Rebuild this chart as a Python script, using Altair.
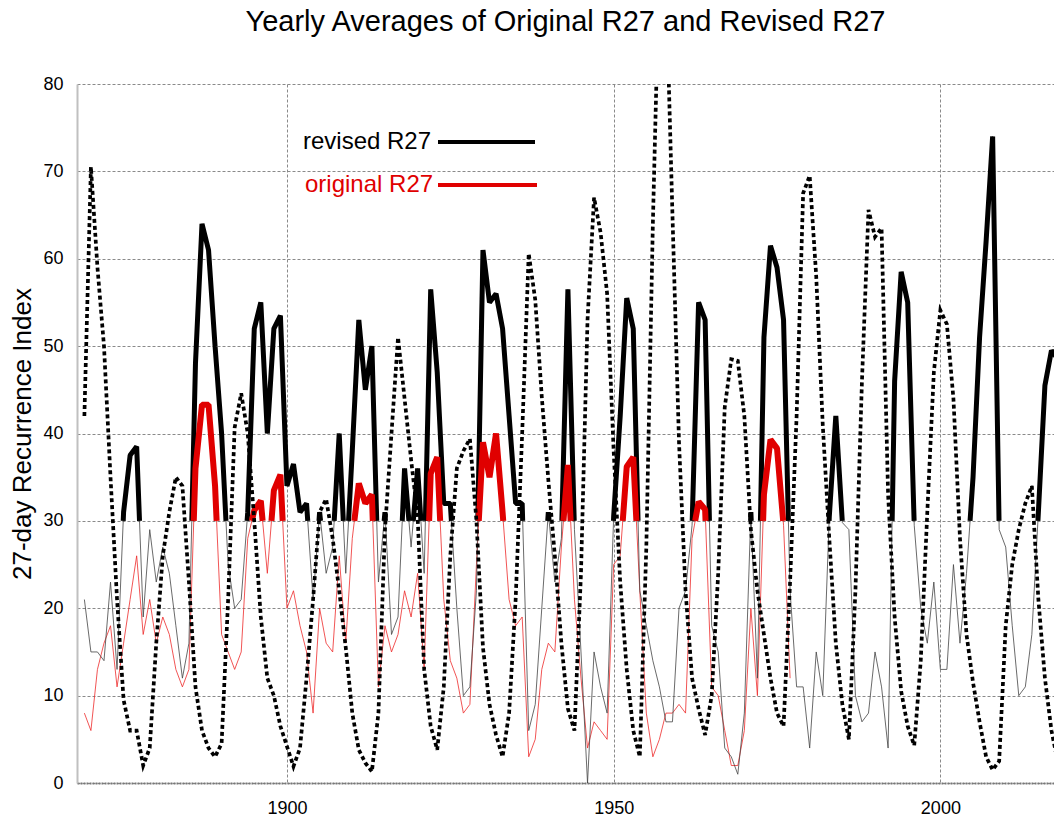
import altair as alt
import pandas as pd

years = list(range(1869, 2020))

revised = [21, 15, 15, 14, 23, 13, 31, 37.5, 38.5, 19,
           29, 23, 27, 24, 18, 12, 16, 48, 64, 61,
           50, 40, 25, 20, 21, 31, 52, 55, 40, 52,
           53.5, 34, 36.5, 31, 32, 21, 31, 24, 27, 40,
           24, 38, 53, 45, 50, 23, 31, 17, 19, 36,
           27, 36, 24, 56.5, 47, 32, 32, 20, 10, 11,
           22, 61, 55, 56, 52, 42, 32, 32, 6, 9,
           20, 31, 23, 28, 56.5, 29, 15, 0, 15, 11,
           8, 30.5, 42, 55.5, 52, 22, 18, 14, 11, 7,
           7, 20, 22, 29.5, 55, 53, 18, 15, 4, 3,
           1, 8, 31, 12, 51, 61.5, 59, 53, 22, 11,
           11, 4, 15, 10, 30.5, 42, 29.8, 29, 10, 7,
           8, 15, 11, 4, 46, 58.5, 55, 29.5, 20, 16,
           23, 13, 13, 25, 16, 24, 35, 51, 62, 74,
           29, 27, 18, 10, 11, 17, 31, 45.5, 49.5, 48.5,
           44]

original_years = list(range(1869, 1978))
original = [8, 6, 13, 16, 18, 11, 16, 21, 26, 17,
            21, 16, 19, 17, 13, 11, 13, 36, 43.3, 43.3,
            34, 17, 15, 13, 15, 28, 31.2, 32.3, 24, 33.5,
            35.3, 20, 22, 18, 15, 8, 20, 16, 15, 26,
            16, 28, 34.3, 32, 33, 11, 18, 15, 17, 22,
            19, 24, 13, 35.4, 37.3, 21, 14, 12, 8, 9,
            25, 39, 35, 40, 31, 21, 18, 19, 3, 5,
            13, 16, 15, 27, 36.4, 21, 12, 4, 7, 6,
            5, 25, 26, 36.2, 37.3, 22, 8, 3, 5, 8,
            8, 9, 8, 28, 32.2, 31.3, 11, 10, 6, 2,
            2, 6, 20, 10, 33, 39.3, 38.3, 29.5, 12]

dotted = [42, 70.5, 59, 50, 35, 21, 9.5, 6, 6, 2,
          4, 16, 26, 31, 35, 34, 23, 11, 6, 4,
          3, 4.5, 21, 40.7, 44.6, 40, 30, 19, 12, 10,
          6.5, 4.2, 1.9, 4, 12, 21, 31, 32.5, 28, 22,
          15.5, 8, 3.8, 2.3, 1.3, 8, 29, 40, 51, 44,
          37, 30.5, 13, 6.5, 3.8, 11, 26, 36, 38, 39.4,
          30, 15.5, 9, 5.5, 3, 8, 21, 40, 60.6, 55.3,
          44.2, 34.7, 26, 16, 8.5, 6, 24, 53, 67, 63,
          56, 38, 23, 13, 6, 3, 27, 64, 94, 92,
          65, 39, 22, 12, 8.5, 5.5, 10, 24, 43, 48.5,
          48.3, 42, 29, 22, 17, 12, 8, 6.5, 23, 42,
          67.5, 69.5, 58, 41, 28, 16, 9, 5, 22, 46,
          65.6, 62.5, 63.5, 33, 19, 10.5, 6.5, 4.3, 14, 31,
          47, 54.1, 52.5, 44, 28, 17, 11.5, 7, 3, 1.5,
          2.5, 18, 25, 29, 32, 34, 21, 12, 6, 2.3,
          1.5]

FLOOR = 30.0
FONT = "Liberation Sans"


def above_floor(xs, vs, floor=FLOOR):
    """Parts of the polyline that lie at or above the floor value."""
    rows = []
    run = -1
    for i, (x, v) in enumerate(zip(xs, vs)):
        if i > 0:
            x0, v0 = xs[i - 1], vs[i - 1]
            if (v0 < floor) != (v < floor):
                t = (floor - v0) / (v - v0)
                xc = x0 + t * (x - x0)
                if v >= floor:
                    run += 1
                rows.append({"year": xc, "value": floor, "run": run})
        elif v >= floor:
            run += 1
        if v >= floor:
            rows.append({"year": x, "value": v, "run": run})
    return pd.DataFrame(rows)


rev_df = pd.DataFrame({"year": years, "value": revised})
orig_df = pd.DataFrame({"year": original_years, "value": original})
dot_df = pd.DataFrame({"year": years, "value": dotted})
rev_thick = above_floor(years, revised)
orig_thick = above_floor(original_years, original)

W, H = 977, 699
xscale = alt.Scale(domain=[1867.87, 2017.39], nice=False, zero=False)
yscale = alt.Scale(domain=[0, 80], nice=False)

x_axis = alt.Axis(values=[1900, 1950, 2000], format="d", title=None,
                  grid=True, gridDash=[3, 2], gridColor="#8a8a8a", gridWidth=1,
                  ticks=False, labelFontSize=18, labelFont=FONT, labelColor="black",
                  labelPadding=16, domainDash=[2, 1], domainColor="#777", domainWidth=2)
y_axis = alt.Axis(values=list(range(0, 81, 10)), title="27-day Recurrence Index",
                  grid=True, gridDash=[3, 2], gridColor="#8a8a8a", gridWidth=1,
                  ticks=False, labelFontSize=18, labelFont=FONT, labelColor="black",
                  labelPadding=14, domainColor="#c0c0c0", domainWidth=2,
                  titleFont=FONT, titleFontSize=26, titleFontWeight="normal",
                  titleColor="black", titlePadding=7)

X = alt.X("year:Q", scale=xscale, axis=x_axis)
Y = alt.Y("value:Q", scale=yscale, axis=y_axis)

thin_red = alt.Chart(orig_df).mark_line(color="#ee2a2a", strokeWidth=0.8, clip=True).encode(
    x=X, y=Y)
thin_black = alt.Chart(rev_df).mark_line(color="#444444", strokeWidth=0.8, clip=True).encode(
    x=X, y=Y)
thick_black = alt.Chart(rev_thick).mark_line(color="black", strokeWidth=5, strokeJoin="bevel",
                                             clip=True).encode(
    x=X, y=Y, detail="run:N")
thick_red = alt.Chart(orig_thick).mark_line(color="#e00000", strokeWidth=6, strokeJoin="bevel",
                                            clip=True).encode(
    x=X, y=Y, detail="run:N")
dots = alt.Chart(dot_df).mark_line(color="black", strokeWidth=3.7, strokeDash=[4, 3],
                                   clip=True).encode(
    x=X, y=Y)

legend_df = pd.DataFrame({"k": [0]})
leg_rev_text = alt.Chart(legend_df).mark_text(
    text="revised R27", align="left", baseline="middle", fontSize=24, font=FONT,
    color="black").encode(x=alt.value(226), y=alt.value(58))
leg_rev_line = alt.Chart(legend_df).mark_rule(color="black", strokeWidth=4).encode(
    x=alt.value(361), x2=alt.value(458), y=alt.value(58))
leg_org_text = alt.Chart(legend_df).mark_text(
    text="original R27", align="left", baseline="middle", fontSize=24, font=FONT,
    color="#e00000").encode(x=alt.value(228), y=alt.value(101))
leg_org_line = alt.Chart(legend_df).mark_rule(color="#e00000", strokeWidth=4).encode(
    x=alt.value(361), x2=alt.value(460), y=alt.value(101))

chart = alt.layer(
    thin_red, thin_black, thick_black, thick_red, dots,
    leg_rev_text, leg_rev_line, leg_org_text, leg_org_line
).properties(
    width=W, height=H,
    title=alt.TitleParams("Yearly Averages of Original R27 and Revised R27",
                          font=FONT, fontSize=29, fontWeight="normal", color="black",
                          anchor="middle", baseline="alphabetic", offset=15),
    autosize=alt.AutoSizeParams(type="none"),
    padding={"left": 69, "top": 76, "right": 0, "bottom": 36},
    background="white",
).configure_view(stroke=None)

chart.save("out.html", embed_options={"renderer": "svg", "actions": False})
